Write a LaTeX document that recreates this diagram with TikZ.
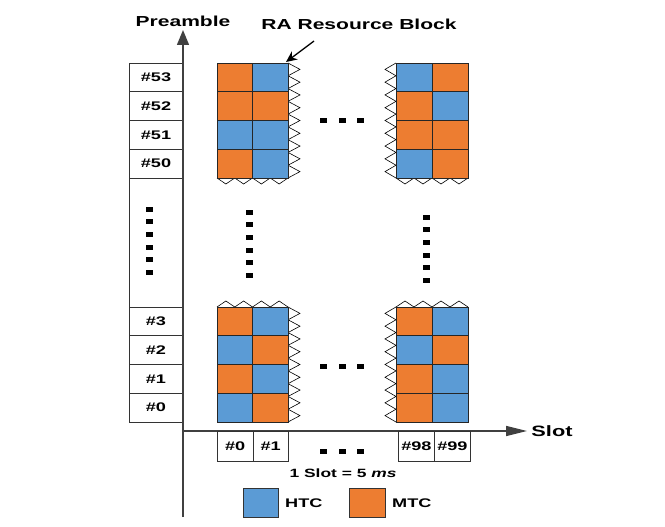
\documentclass[tikz,border=0pt]{standalone}
\usepackage{fontspec}
\setmainfont{Liberation Sans}[FakeStretch=1.45]
\usetikzlibrary{arrows.meta}
\definecolor{htc}{HTML}{5B9BD5}
\definecolor{mtc}{HTML}{ED7D31}
\tikzset{
    txt/.style={font=\bfseries\fontsize{12.5}{14}\selectfont, inner sep=0pt},
    cell/.style={draw=black!85, line width=0.8pt},
    zig/.style={draw=black, fill=white, line width=0.6pt},
    box/.style={draw=black!80, line width=0.8pt},
    axis/.style={draw=black!75, line width=1.4pt},
}
\begin{document}
\begin{tikzpicture}[x=1pt, y=-1pt]
        \useasboundingbox (0,0) rectangle (665,527);

        % Preamble column
        \draw[box] (129,63) rectangle (183,422);
        \foreach \lab [count=\i] in {53,52,51,50} {
            \draw[box] (129,{63+\i*28.75}) -- (183,{63+\i*28.75});
            \node[txt] (pre\lab) at (156,{63+(\i-0.5)*28.75}) {\#\lab};
        }
        \foreach \lab [count=\i] in {3,2,1,0} {
            \draw[box] (129,{307+(\i-1)*28.75}) -- (183,{307+(\i-1)*28.75});
            \node[txt] (pre\lab) at (156,{307+(\i-0.5)*28.75}) {\#\lab};
        }

        % Axes and labels
        \coordinate (ybase) at (183,517);
        \coordinate (ytip) at (183,30);
        \coordinate (origin) at (183,431);
        \coordinate (xtip) at (527,431);
        \draw[axis, -{Triangle[length=15pt, width=12pt]}] (ybase) -- (ytip);
        \draw[axis, -{Triangle[length=21pt, width=10pt]}] (origin) -- (xtip);
        \node[txt, font=\bfseries\fontsize{14.5}{16}\selectfont] (ylab) at (183,21) {Preamble};
        \node[txt, font=\bfseries\fontsize{15}{17}\selectfont] (xlab) at (552,431) {Slot};

        % Top-left block (slots #0, #1)
        \begin{scope}[shift={(217,63)}]
            \draw[zig] (71,0) \foreach \i in {1,...,9} { -- (83,{(\i-0.5)*115/9}) -- (71,{\i*115/9}) };
            \draw[zig] (0,115) \foreach \i in {1,...,4} { -- ({(\i-0.5)*71/4},121) -- ({\i*71/4},115) };
            \foreach \ca/\cb [count=\row] in {mtc/htc,mtc/mtc,htc/htc,mtc/htc} {
                \pgfmathsetmacro\yt{(\row-1)*28.75}
                \draw[cell, fill=\ca] (0,\yt) rectangle ++(35.5,28.75);
                \draw[cell, fill=\cb] (35.5,\yt) rectangle ++(35.5,28.75);
            }
            \coordinate (tlcorner) at (69,-1);
        \end{scope}

        % Top-right block (slots #98, #99)
        \begin{scope}[shift={(396,63)}]
            \draw[zig] (0,0) \foreach \i in {1,...,9} { -- (-11,{(\i-0.5)*115/9}) -- (0,{\i*115/9}) };
            \draw[zig] (0,115) \foreach \i in {1,...,4} { -- ({(\i-0.5)*72/4},121) -- ({\i*72/4},115) };
            \foreach \ca/\cb [count=\row] in {htc/mtc,mtc/htc,mtc/mtc,htc/mtc} {
                \pgfmathsetmacro\yt{(\row-1)*28.75}
                \draw[cell, fill=\ca] (0,\yt) rectangle ++(36,28.75);
                \draw[cell, fill=\cb] (36,\yt) rectangle ++(36,28.75);
            }
        \end{scope}

        % Bottom-left block
        \begin{scope}[shift={(217,307)}]
            \draw[zig] (71,0) \foreach \i in {1,...,9} { -- (83,{(\i-0.5)*115/9}) -- (71,{\i*115/9}) };
            \draw[zig] (0,0) \foreach \i in {1,...,4} { -- ({(\i-0.5)*71/4},-6) -- ({\i*71/4},0) };
            \foreach \ca/\cb [count=\row] in {mtc/htc,htc/mtc,mtc/htc,htc/mtc} {
                \pgfmathsetmacro\yt{(\row-1)*28.75}
                \draw[cell, fill=\ca] (0,\yt) rectangle ++(35.5,28.75);
                \draw[cell, fill=\cb] (35.5,\yt) rectangle ++(35.5,28.75);
            }
        \end{scope}

        % Bottom-right block
        \begin{scope}[shift={(396,307)}]
            \draw[zig] (0,0) \foreach \i in {1,...,9} { -- (-11,{(\i-0.5)*115/9}) -- (0,{\i*115/9}) };
            \draw[zig] (0,0) \foreach \i in {1,...,4} { -- ({(\i-0.5)*72/4},-6) -- ({\i*72/4},0) };
            \foreach \ca/\cb [count=\row] in {mtc/htc,htc/mtc,mtc/htc,mtc/htc} {
                \pgfmathsetmacro\yt{(\row-1)*28.75}
                \draw[cell, fill=\ca] (0,\yt) rectangle ++(36,28.75);
                \draw[cell, fill=\cb] (36,\yt) rectangle ++(36,28.75);
            }
        \end{scope}

        % RA resource block label
        \node[txt, font=\bfseries\fontsize{14.5}{16}\selectfont] (ralab) at (359,24) {RA Resource Block};
        \coordinate (rafoot) at (314,41);
        \draw[line width=1.3pt, -{Stealth[length=11pt, width=10pt]}] (rafoot) -- (tlcorner);

        % Dots
        \foreach \yy in {121,366,451}
            \foreach \xx in {320,338.5,357}
                \fill (\xx,{\yy-2.5}) rectangle ++(7,5);
        \foreach \xx/\ys in {149/209,249/212,426/217}
            \foreach \k in {0,...,5}
                \fill ({\xx-3.5},{\ys+\k*12.7-2.5}) rectangle ++(7,5);

        % Slot numbers
        \foreach \lab/\xl/\w in {0/217/35.5,1/252.5/35.5,98/398/36,99/434/36} {
            \node[box, txt, minimum width=\w pt, minimum height=30pt, anchor=north west] (slot\lab) at (\xl,431) {\#\lab};
        }
        \node[txt, font=\bfseries\fontsize{12}{14}\selectfont] (slotnote) at (343,473) {1 Slot = 5 \textit{ms}};

        % Legend
        \node[box, fill=htc, minimum width=35pt, minimum height=29pt] (keyhtc) at (260.5,502.5) {};
        \node[txt, font=\bfseries\fontsize{12.5}{14}\selectfont, anchor=west] (keyhtclab) at (285,503) {HTC};
        \node[box, fill=mtc, minimum width=36pt, minimum height=29pt] (keymtc) at (367.5,502.5) {};
        \node[txt, font=\bfseries\fontsize{12.5}{14}\selectfont, anchor=west] (keymtclab) at (392,503) {MTC};
\end{tikzpicture}
\end{document}
